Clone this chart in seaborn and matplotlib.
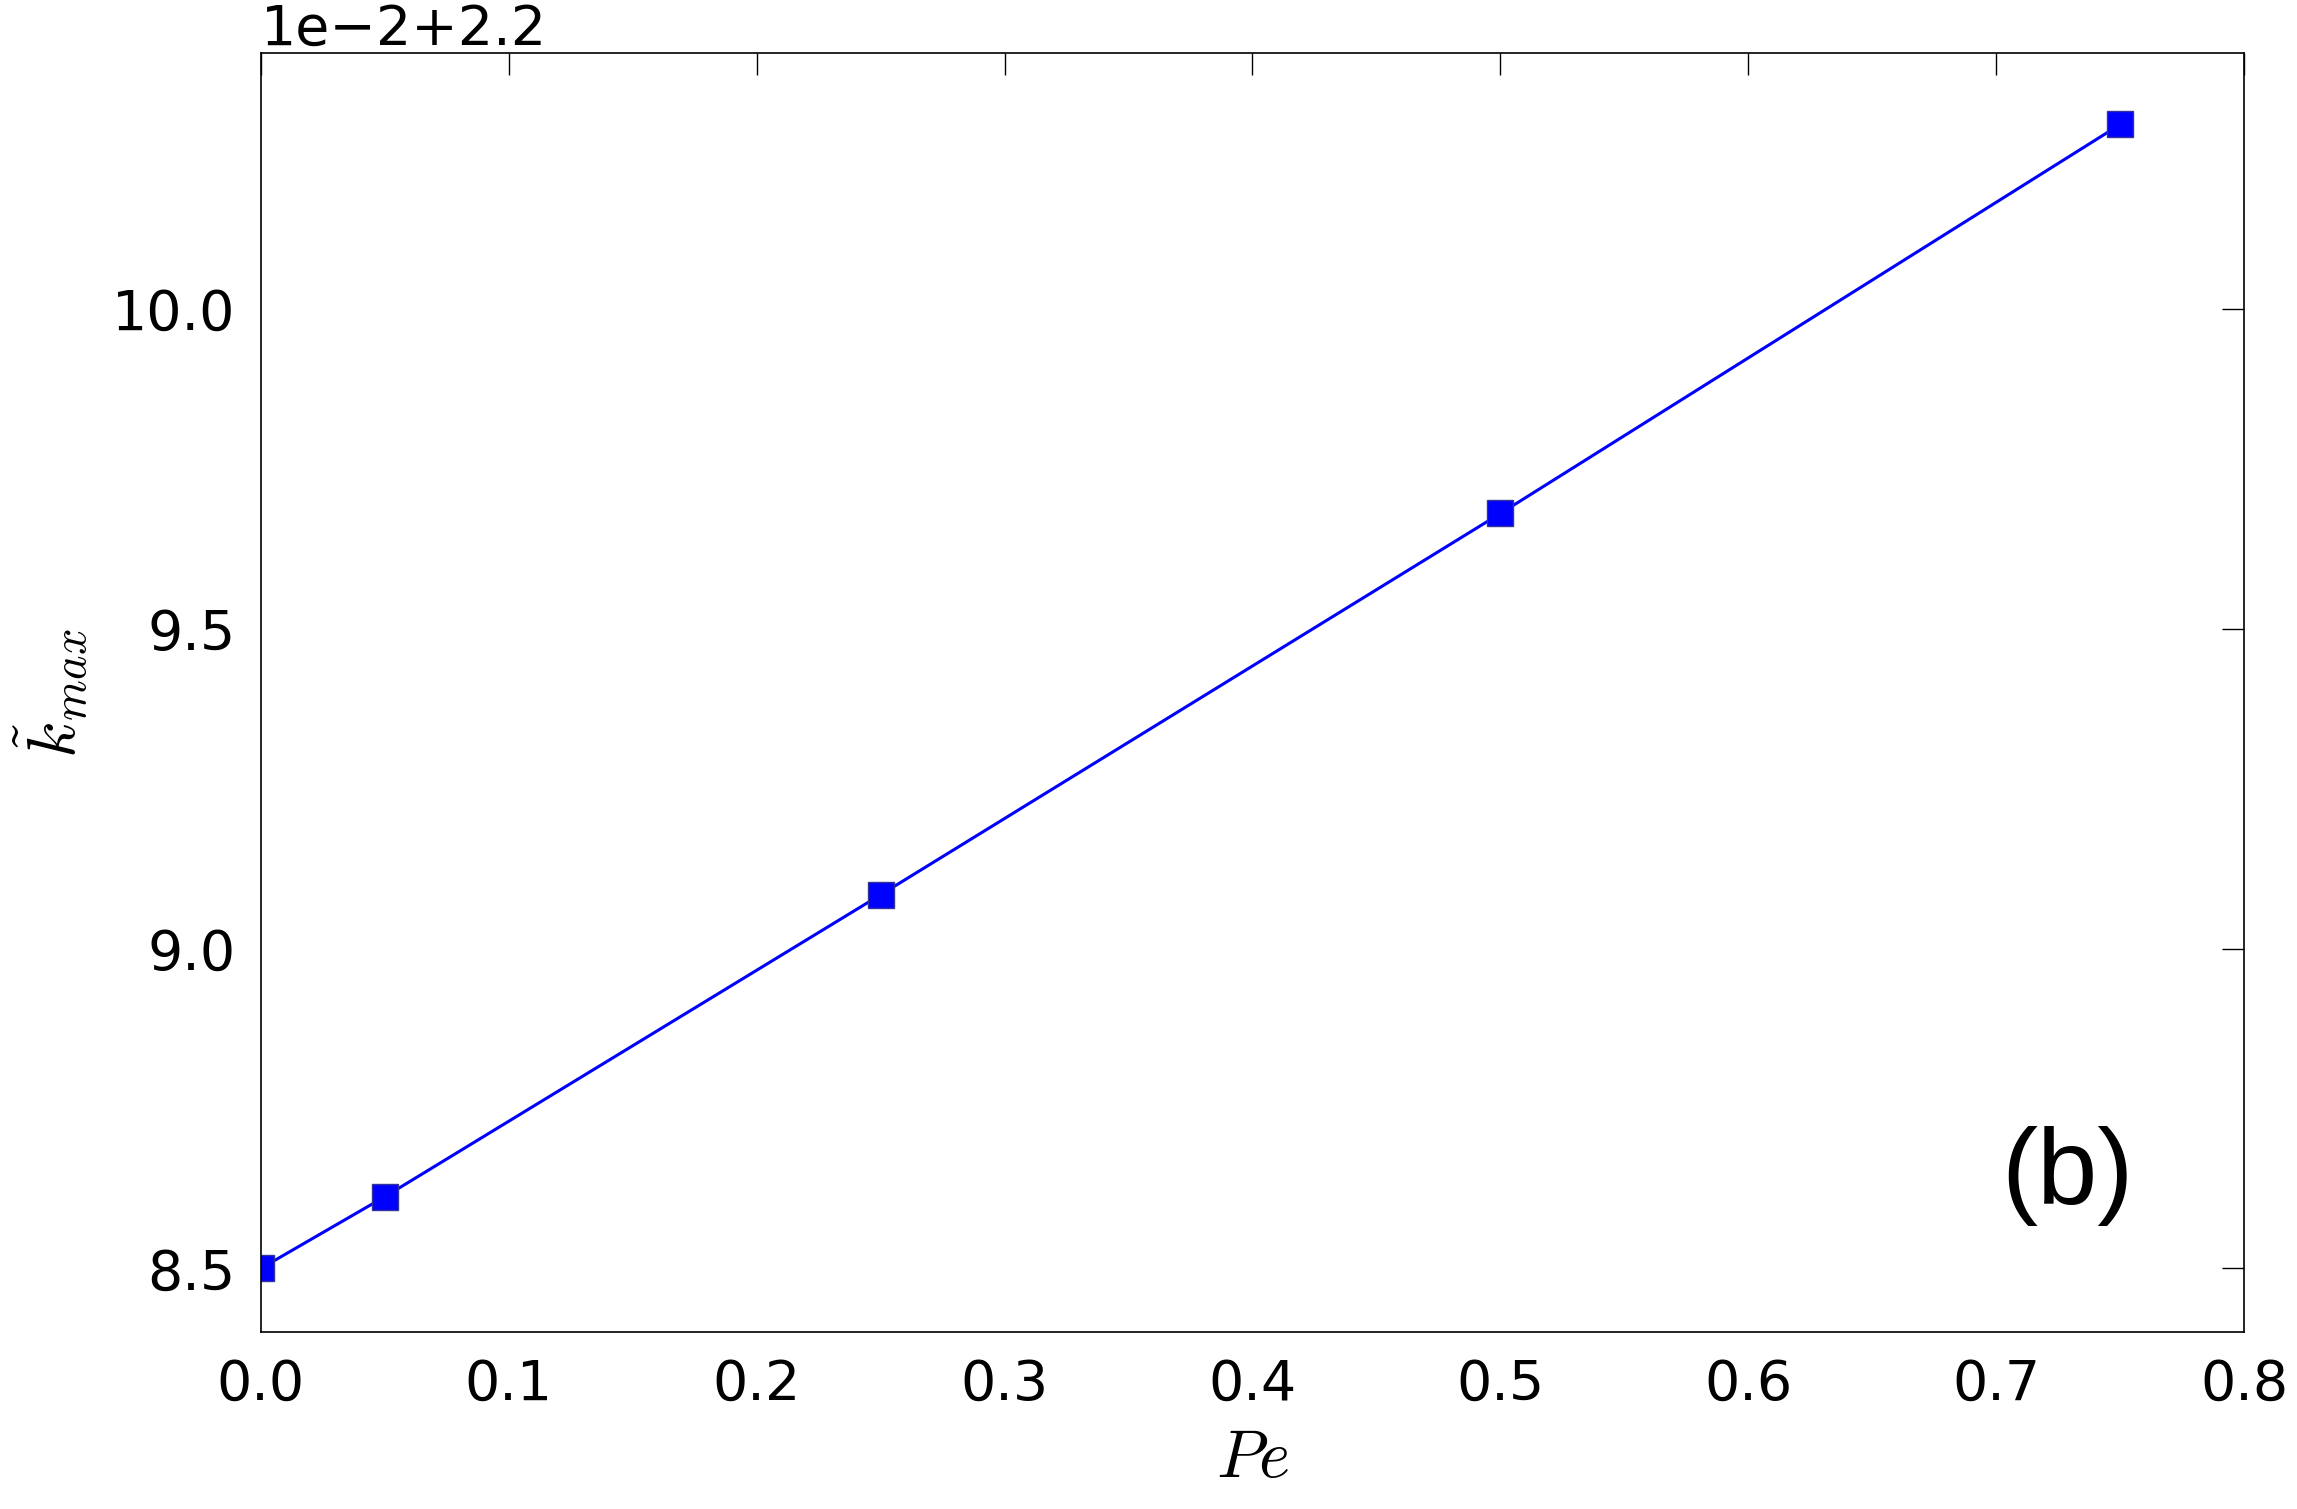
import matplotlib
matplotlib.use("Agg")
import matplotlib.pyplot as plt
import seaborn as sns
from matplotlib.ticker import ScalarFormatter, MultipleLocator

# Peclet number and the wavenumber of maximum growth
pe = [0.0, 0.05, 0.25, 0.5, 0.75]
k_max = [2.2850, 2.28612, 2.29084, 2.29680, 2.30288]

sns.set_theme(style="white")
plt.rcParams['font.family'] = ['DejaVu Sans']
plt.rcParams['mathtext.fontset'] = 'cm'
plt.rcParams['text.color'] = 'black'
plt.rcParams['axes.labelcolor'] = 'black'

fig, ax = plt.subplots(figsize=(11.485, 7.545), dpi=200)

sns.lineplot(x=pe, y=k_max, color='blue', linewidth=1.1, marker='s',
             markersize=9.5, markeredgecolor='#333399', markeredgewidth=0.5, ax=ax)

ax.set_xlim(0, 0.8)
ax.set_ylim(2.284, 2.304)
ax.yaxis.set_major_locator(MultipleLocator(0.005))
ax.xaxis.set_major_locator(MultipleLocator(0.1))
fmt = ScalarFormatter(useOffset=2.2)
fmt.set_powerlimits((-1, 1))
ax.yaxis.set_major_formatter(fmt)

for s in ax.spines.values():
    s.set_color('black')
    s.set_linewidth(0.6)
ax.tick_params(direction='in', length=8, width=0.5, top=True, right=True,
               labelsize=20, pad=9, colors='black')
ax.yaxis.get_offset_text().set_fontsize(20)

ax.set_xlabel('$Pe$', fontsize=24, labelpad=5)
ax.set_ylabel(r'$\tilde{k}_{max}$', fontsize=24, labelpad=8)

ax.text(0.911, 0.122, '(b)', transform=ax.transAxes, fontsize=39,
        family='Liberation Sans', ha='center', va='center', color='black')

plt.subplots_adjust(left=0.1135, right=0.977, top=0.965, bottom=0.117)
fig.savefig('out.png', dpi=200)
